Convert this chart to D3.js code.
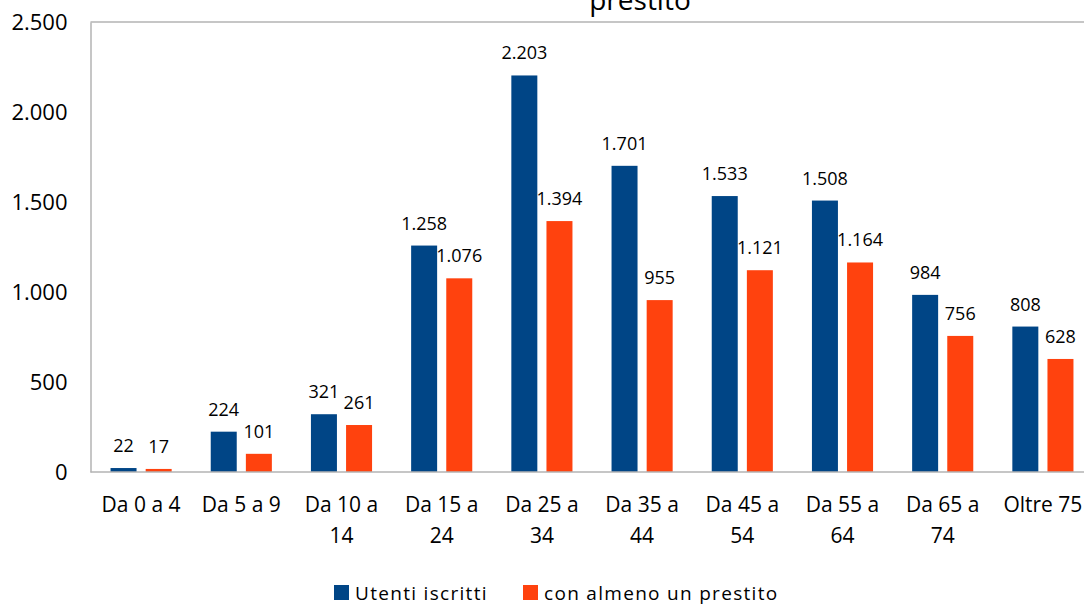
<!DOCTYPE html>
<html>
<head>
<meta charset="utf-8">
<script src="https://cdn.jsdelivr.net/npm/d3@7"></script>
<style>
  html, body { margin: 0; padding: 0; background: #fff; }
  svg { display: block; font-family: "Open Sans", sans-serif; }
</style>
</head>
<body>
<svg id="chart" width="1084" height="604"></svg>
<script>
const categories = ["Da 0 a 4", "Da 5 a 9", "Da 10 a 14", "Da 15 a 24", "Da 25 a 34",
  "Da 35 a 44", "Da 45 a 54", "Da 55 a 64", "Da 65 a 74", "Oltre 75"];
const seriesNames = ["Utenti iscritti", "con almeno un prestito"];
const utentiIscritti = [22, 224, 321, 1258, 2203, 1701, 1533, 1508, 984, 808];
const conPrestito = [17, 101, 261, 1076, 1394, 955, 1121, 1164, 756, 628];
const yTicks = [0, 500, 1000, 1500, 2000, 2500];
const titleText = "prestito";

const colors = ["#004586", "#ff420e"];
const seriesValues = [utentiIscritti, conPrestito];

const itLocale = d3.formatLocale({ decimal: ",", thousands: ".", grouping: [3], currency: ["€", ""] });
const fmt = itLocale.format(",d");

const svg = d3.select("#chart");
const plot = { left: 91, right: 1093, top: 22, bottom: 472 };

const x = d3.scaleBand().domain(categories).range([plot.left, plot.right]).paddingInner(0).paddingOuter(0);
const bw = x.bandwidth();
const xs = d3.scaleBand().domain(d3.range(seriesNames.length)).range([bw * 0.195, bw * 0.805]).paddingInner(0.26).paddingOuter(0);
const y = d3.scaleLinear().domain([0, 2500]).range([plot.bottom, plot.top]);

// title (second line visible)
svg.append("text").attr("x", 640).attr("y", 9.5).attr("text-anchor", "middle")
  .attr("font-size", 28).attr("fill", "#000").text(titleText);

// bars
const rows = categories.map((c, i) => ({ cat: c, vals: seriesValues.map(s => s[i]) }));
const groups = svg.append("g").selectAll("g").data(rows).join("g")
  .attr("transform", d => `translate(${x(d.cat)},0)`);

groups.selectAll("rect").data(d => d.vals.map((v, k) => ({ v, k }))).join("rect")
  .attr("x", d => xs(d.k)).attr("width", xs.bandwidth())
  .attr("y", d => y(d.v)).attr("height", d => y(0) - y(d.v))
  .attr("fill", d => colors[d.k]);

groups.selectAll("text.val").data(d => d.vals.map((v, k) => ({ v, k }))).join("text")
  .attr("class", "val")
  .attr("x", d => xs(d.k) + xs.bandwidth() / 2)
  .attr("y", d => y(d.v) - 16)
  .attr("text-anchor", "middle").attr("font-size", 18).attr("fill", "#000")
  .text(d => fmt(d.v));

// frame: top border, left axis line, bottom axis line
svg.append("line").attr("x1", plot.left - 0.5).attr("x2", 1084).attr("y1", plot.top).attr("y2", plot.top)
  .attr("stroke", "#b3b3b3").attr("stroke-width", 1.5);

const yAxis = d3.axisLeft(y).tickValues(yTicks).tickSize(0).tickPadding(23).tickFormat(d => fmt(d));
const gy = svg.append("g").attr("transform", `translate(${plot.left - 0.5},0)`).call(yAxis);
gy.select(".domain").attr("stroke", "#b3b3b3").attr("stroke-width", 1.5);
gy.selectAll("text").attr("font-size", 22).attr("fill", "#000").attr("font-family", "Open Sans, sans-serif");

const xAxis = d3.axisBottom(x).tickSize(0).tickPadding(0);
const gx = svg.append("g").attr("transform", `translate(0,${plot.bottom})`).call(xAxis);
gx.select(".domain").attr("stroke", "#b3b3b3").attr("stroke-width", 1.5).attr("d", `M${plot.left - 0.5},0H1084`);
gx.selectAll(".tick text").each(function (d) {
  const t = d3.select(this);
  t.text(null).attr("font-size", 21).attr("fill", "#000").attr("font-family", "Open Sans, sans-serif")
    .attr("y", 0).attr("dy", null);
  // greedy wrap to band width
  const words = d.split(" ");
  const lines = [];
  let cur = [];
  const probe = t.append("tspan");
  words.forEach(w => {
    const test = cur.concat([w]).join(" ");
    probe.text(test);
    if (probe.node().getComputedTextLength() > bw - 4 && cur.length) {
      lines.push(cur.join(" "));
      cur = [w];
    } else cur.push(w);
  });
  lines.push(cur.join(" "));
  probe.remove();
  lines.forEach((ln, i) => {
    t.append("tspan").attr("x", 0).attr("y", 40 + i * 30.5).text(ln);
  });
});

// legend
const legend = svg.append("g");
const legendX = [334, 523];
seriesNames.forEach((name, k) => {
  legend.append("rect").attr("x", legendX[k]).attr("y", 585).attr("width", 15).attr("height", 15).attr("fill", colors[k]);
  legend.append("text").attr("x", legendX[k] + 21).attr("y", 600)
    .attr("font-size", 19).attr("letter-spacing", 1.3).attr("fill", "#000").text(name);
});
</script>
</body>
</html>
